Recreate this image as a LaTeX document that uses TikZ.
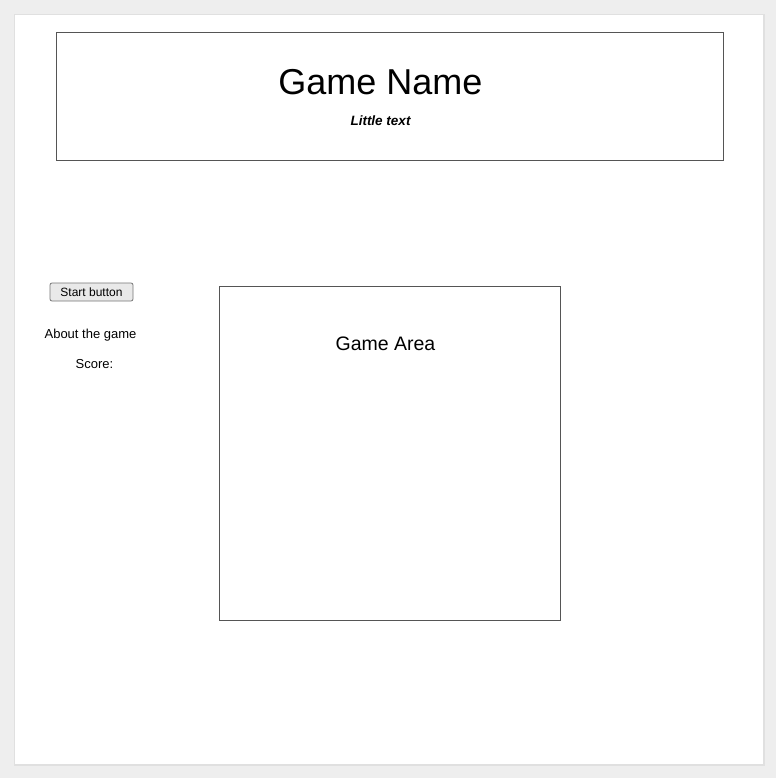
\documentclass[tikz,border=0pt]{standalone}
\usepackage{fontspec}
\setmainfont{Liberation Sans}
\definecolor{pagebg}{HTML}{EEEEEE}
\definecolor{panelline}{HTML}{E0E0E0}
\definecolor{boxline}{HTML}{555555}
\definecolor{btnfill}{HTML}{E9E9E9}
\definecolor{btnline}{HTML}{767676}
\tikzset{
  px/.style={x=1pt,y=-1pt},
  frame/.style={draw=boxline,line width=0.9pt},
  label/.style={inner sep=0pt,anchor=center},
}
\begin{document}
\begin{tikzpicture}[px]
\useasboundingbox (0,0) rectangle (776,778);
\fill[pagebg] (0,0) rectangle (776,778);
\draw[panelline,fill=white,line width=1.5pt] (14.5,14.5) rectangle (764,765);
% header
\node[frame,minimum width=667pt,minimum height=128pt,inner sep=0pt] (header) at (390,96) {};
\node[label,font=\fontsize{36}{40}\selectfont] (title) at (380.5,82) {Game Name};
\node[label,font=\fontsize{13.5}{16}\selectfont\bfseries\itshape] (sub) at (380.5,121) {Little text};
% left column
\node[draw=btnline,fill=btnfill,rounded corners=2pt,line width=0.8pt,minimum width=83pt,minimum height=18pt,inner sep=0pt,font=\fontsize{12}{14}\selectfont] (btn) at (91.5,292) {Start button};
\node[label,font=\fontsize{13}{15}\selectfont] (about) at (90.5,335.5) {About the game};
\node[label,font=\fontsize{13}{15}\selectfont] (score) at (94.5,364.5) {Score:};
% game area
\node[frame,minimum width=341pt,minimum height=334pt,inner sep=0pt] (area) at (390,453) {};
\node[label,font=\fontsize{19.5}{22}\selectfont] (areatitle) at (385.5,344) {Game Area};
\end{tikzpicture}
\end{document}
